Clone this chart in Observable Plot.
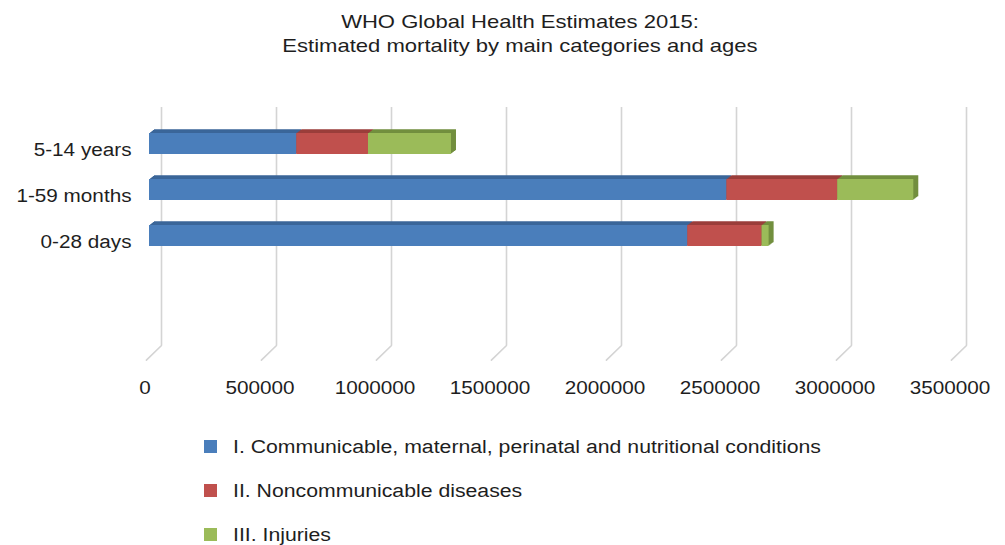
<!DOCTYPE html>
<html>
<head>
<meta charset="utf-8">
<script src="https://cdn.jsdelivr.net/npm/d3@7"></script>
<script src="https://cdn.jsdelivr.net/npm/@observablehq/plot@0.6"></script>
<style>
  html, body { margin: 0; padding: 0; background: #fff; }
  body { width: 1005px; height: 545px; position: relative; overflow: hidden;
         font-family: "Liberation Sans", Arial, sans-serif; color: #1e1e1e; }
  #title { position: absolute; left: 20px; top: 10px; width: 1000px; text-align: center;
           font-size: 19px; line-height: 24px; transform: scaleX(1.16); transform-origin: 500px 0; }
  #chart { position: absolute; left: 0; top: 70px; }
  #legend { position: absolute; left: 204px; top: 440px; }
  .item { position: absolute; left: 0; height: 13px; white-space: nowrap; }
  .swatch { position: absolute; left: 0; top: 0; width: 13px; height: 13px; }
  .label { position: absolute; left: 29px; top: -4px; font-size: 18px; line-height: 22px;
           transform: scaleX(1.18); transform-origin: 0 0; }
</style>
</head>
<body>
<div id="title">WHO Global Health Estimates 2015:<br>Estimated mortality by main categories and ages</div>
<div id="chart"></div>
<div id="legend"></div>
<script>
// Age groups (top to bottom) and the three cause groups stacked in each bar
const ages = ["5-14 years", "1-59 months", "0-28 days"];
const causes = [
  "I. Communicable, maternal, perinatal and nutritional conditions",
  "II. Noncommunicable diseases",
  "III. Injuries"
];

// Estimated deaths per age group, one array per cause group
const communicable    = [640000, 2510000, 2340000];
const noncommunicable = [312000,  482000,  323000];
const injuries        = [361000,  331000,   31000];

// Axis ticks
const xTicks = [0, 500000, 1000000, 1500000, 2000000, 2500000, 3000000, 3500000];

// Face colours and darker shades for the extruded top / side of each bar
const faceColors = ["#4a7ebb", "#c0504d", "#9bbb59"];
const sideColors = ["#3b6699", "#9a3e3b", "#728f3f"];

const series = [communicable, noncommunicable, injuries];
const rows = ages.flatMap((age, i) =>
  series.map((values, k) => ({age, cause: causes[k], k, value: values[i]}))
);

// Short segment for the floor part of each gridline
const floorSegment = {
  draw(context, l) { context.moveTo(0, 0); context.lineTo(0, -l); }
};

const gridColor = "#d4d4d4";
const depth = [5, 4, 3, 2, 1];

const marks = [
  // back-wall gridlines
  Plot.ruleX(xTicks, {x: d => d, dx: 12, stroke: gridColor, strokeWidth: 1.6}),
  // floor gridlines running to the front
  Plot.vector(xTicks, {x: d => d, frameAnchor: "bottom", dx: 12, length: 21, rotate: 226,
    anchor: "start", shape: floorSegment, stroke: gridColor, strokeWidth: 1.6}),
  // extruded depth of the stacked bars
  ...depth.map(i => Plot.barX(rows, Plot.stackX({
    y: "age", x: "value", z: "k", fill: d => sideColors[d.k], dx: i, dy: -0.75 * i
  }))),
  // front faces
  Plot.barX(rows, Plot.stackX({y: "age", x: "value", z: "k", fill: d => faceColors[d.k]})),
  Plot.axisY({tickSize: 0, tickPadding: 18, dy: 6, fontSize: 18, label: null}),
  Plot.axisX({ticks: xTicks, tickFormat: d3.format("d"), tickSize: 0, tickPadding: 36, dx: -4.5,
    fontSize: 18, label: null})
];

const chart = Plot.plot({
  width: 1005,
  height: 345,
  marginLeft: 149,
  marginRight: 51,
  marginTop: 37,
  marginBottom: 70,
  style: {fontFamily: "Liberation Sans, Arial, sans-serif", fontSize: "18px", color: "#1e1e1e", background: "#fff"},
  x: {domain: [0, 3500000], label: null},
  y: {domain: ages, range: [49.75, 189.25], paddingInner: 0.548, paddingOuter: 0.274, label: null},
  color: {type: "identity"},
  marks
});
document.getElementById("chart").append(chart);

// widen the axis lettering a little
d3.select(chart).selectAll("text").each(function() {
  const len = this.getComputedTextLength();
  if (len > 0) {
    this.setAttribute("textLength", (len * 1.15).toFixed(1));
    this.setAttribute("lengthAdjust", "spacingAndGlyphs");
  }
});

// legend
const legend = d3.select("#legend");
causes.forEach((c, k) => {
  const item = legend.append("div").attr("class", "item").style("top", `${k * 44}px`);
  item.append("div").attr("class", "swatch").style("background", faceColors[k]);
  item.append("div").attr("class", "label").text(c);
});
</script>
</body>
</html>
